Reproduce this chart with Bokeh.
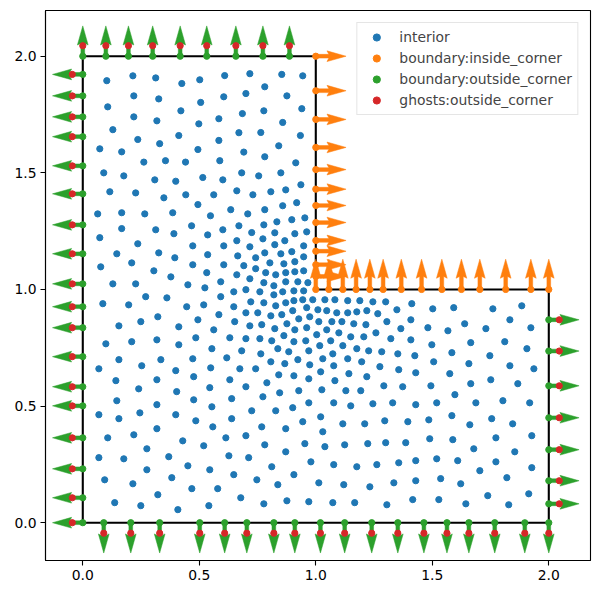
import numpy as np
from bokeh.plotting import figure
from bokeh.models import Range1d, FixedTicker, NumeralTickFormatter
from bokeh.embed import file_html
from bokeh.resources import INLINE

# ---------------- data ----------------
interior_x = [
    # upper-left
    0.103, 0.215, 0.313, 0.425, 0.219, 0.326, 0.107, 0.421, 0.219, 0.318, 0.129, 0.236, 0.412, 0.330, 0.073, 0.167,
    # upper-right of arm
    0.502, 0.609, 0.717, 0.854, 0.944, 0.700, 0.781, 0.605, 0.506, 0.876, 0.685, 0.777, 0.940, 0.584, 0.498, 0.858,
    0.670, 0.764, 0.934, 0.584, 0.494, 0.841, 0.691,
    # arm middle left
    0.262, 0.355, 0.090, 0.176, 0.309, 0.399, 0.116, 0.227, 0.348, 0.064, 0.167, 0.266, 0.386, 0.167, 0.313, 0.391,
    0.073, 0.236, 0.146, 0.326, 0.395, 0.210, 0.305, 0.077,
    # arm middle right
    0.441, 0.588, 0.781, 0.914,
    0.515, 0.601, 0.682, 0.755, 0.850,
    0.442, 0.562, 0.661, 0.730, 0.807, 0.871, 0.936,
    0.494, 0.635, 0.548, 0.708, 0.781, 0.858, 0.918,
    0.467, 0.601, 0.670, 0.777, 0.833, 0.897, 0.953,
    0.536, 0.725, 0.824, 0.910, 0.961,
    0.472, 0.605, 0.661, 0.717, 0.773, 0.824, 0.867, 0.897, 0.948,
    0.536, 0.665, 0.742, 0.781, 0.850, 0.948,
    0.472, 0.605, 0.691, 0.742, 0.803, 0.863, 0.910, 0.948, 0.910,
    # lower-left middle
    0.378, 0.129, 0.227, 0.270, 0.361, 0.086, 0.197, 0.322, 0.249, 0.155, 0.412, 0.099, 0.210, 0.318, 0.412, 0.155,
    0.335, 0.069, 0.253, 0.399, 0.142, 0.318, 0.240, 0.403, 0.146, 0.318, 0.069, 0.245, 0.399,
    # center
    0.532, 0.661, 0.785, 0.828, 0.871,
    0.451, 0.524, 0.592, 0.717, 0.777, 0.820, 0.871, 0.923, 0.966,
    0.592, 0.648, 0.700, 0.760, 0.820, 0.858, 0.906, 0.948, 0.987,
    0.446, 0.519, 0.648, 0.721, 0.777, 0.828, 0.871, 0.944, 0.906, 0.961,
    0.584, 0.700, 0.751, 0.807, 0.854, 0.901, 0.927, 0.974,
    0.494, 0.652, 0.717, 0.768, 0.824, 0.876, 0.910, 0.961, 0.562,
    0.485, 0.631, 0.700, 0.760, 0.811, 0.863, 0.906, 0.957,
    0.554, 0.682, 0.764, 0.837, 0.884, 0.970,
    0.472, 0.618, 0.807, 0.867, 0.923, 0.974,
    0.549, 0.674, 0.742, 0.841, 0.906,
    0.476, 0.631, 0.790, 0.970,
    0.545, 0.700, 0.845, 0.927,
    0.476, 0.639, 0.773, 0.970,
    0.554, 0.725, 0.828, 0.901,
    # right of inner corner
    1.039, 1.082, 1.137, 1.189, 1.245, 1.300, 1.412,
    1.009, 1.047, 1.090, 1.137, 1.176, 1.219, 1.266, 1.348, 1.502,
    1.013, 1.069, 1.112, 1.163, 1.215, 1.305, 1.408,
    1.047, 1.004, 1.099, 1.150, 1.206, 1.258, 1.365, 1.481, 1.567, 1.322, 1.408,
    1.064, 1.017, 1.116, 1.176, 1.227, 1.283, 1.352, 1.425, 1.498,
    1.030, 1.073, 1.137, 1.197, 1.506,
    1.077, 1.275, 1.356, 1.429, 1.021, 1.142, 1.219, 1.082, 1.575,
    1.026, 1.129, 1.193, 1.292, 1.373, 1.494,
    1.077, 1.150, 1.245, 1.330, 1.429, 1.519,
    # far right middle
    1.592, 1.760, 1.884, 1.639, 1.730, 1.833, 1.923, 1.665, 1.811, 1.906, 1.584, 1.747, 1.657, 1.833, 1.936, 1.665,
    1.751, 1.867, 1.597, 1.687, 1.803, 1.918,
    # bottom left
    0.155, 0.107, 0.219, 0.318, 0.429, 0.275, 0.069, 0.176, 0.369, 0.275, 0.094, 0.215, 0.382, 0.322, 0.137, 0.249, 0.408,
    # bottom center
    0.485, 0.558, 0.639, 0.768, 0.871, 0.944, 0.519, 0.614, 0.700, 0.781, 0.871, 0.953, 0.627, 0.712, 0.451, 0.545,
    0.811, 0.979, 0.648, 0.747, 0.906, 0.837, 0.468, 0.579, 0.678, 0.777, 0.876, 0.970, 0.541,
    # bottom right-center
    1.021, 1.116, 1.210, 1.296, 1.395, 1.485, 1.030, 1.039, 1.124, 1.223, 1.300, 1.386, 1.489, 1.077, 1.176, 1.262,
    1.356, 1.429, 1.519, 1.013, 1.120, 1.232, 1.335, 1.429, 1.536, 1.073, 1.167, 1.305, 1.416, 1.528,
    # bottom right
    1.584, 1.661, 1.755, 1.845, 1.588, 1.773, 1.927, 1.678, 1.854, 1.609, 1.773, 1.704, 1.927, 1.820, 1.622, 1.738,
    1.914, 1.644, 1.828,
]
interior_y = [
    1.895, 1.916, 1.907, 1.883, 1.830, 1.817, 1.783, 1.766, 1.740, 1.723, 1.685, 1.643, 1.660, 1.625, 1.603, 1.590,
    1.899, 1.917, 1.925, 1.922, 1.916, 1.840, 1.869, 1.826, 1.802, 1.830, 1.754, 1.766, 1.775, 1.732, 1.710, 1.716,
    1.672, 1.673, 1.660, 1.639, 1.600, 1.616, 1.589,
    1.546, 1.552, 1.500, 1.487, 1.470, 1.464, 1.419, 1.414, 1.393, 1.324, 1.329, 1.324, 1.329, 1.261, 1.256, 1.239,
    1.222, 1.196, 1.153, 1.157, 1.136, 1.114, 1.080, 1.097,
    1.546, 1.552, 1.569, 1.543,
    1.480, 1.470, 1.500, 1.487, 1.500,
    1.406, 1.406, 1.423, 1.406, 1.419, 1.427, 1.449,
    1.364, 1.342, 1.316, 1.324, 1.342, 1.359, 1.372,
    1.273, 1.256, 1.273, 1.277, 1.290, 1.299, 1.307,
    1.234, 1.244, 1.243, 1.239, 1.247,
    1.187, 1.187, 1.209, 1.183, 1.217, 1.192, 1.209, 1.162, 1.187,
    1.149, 1.144, 1.136, 1.157, 1.153, 1.140,
    1.106, 1.106, 1.102, 1.089, 1.114, 1.110, 1.119, 1.080, 1.076,
    1.054, 1.024, 1.024, 0.969, 0.964, 0.939, 0.934, 0.883, 0.862, 0.844, 0.840, 0.767, 0.776, 0.784, 0.763, 0.699,
    0.699, 0.660, 0.673, 0.652, 0.609, 0.613, 0.574, 0.562, 0.523, 0.506, 0.463, 0.471, 0.463,
    1.072, 1.063, 1.072, 1.063, 1.072,
    1.020, 1.007, 1.033, 1.046, 1.029, 1.016, 1.033, 1.033, 1.029,
    0.969, 0.990, 0.999, 0.990, 0.977, 0.990, 0.994, 0.994, 0.956,
    0.926, 0.934, 0.926, 0.947, 0.943, 0.930, 0.943, 0.956, 0.952, 0.922,
    0.892, 0.900, 0.900, 0.887, 0.892, 0.909, 0.874, 0.883,
    0.870, 0.862, 0.844, 0.849, 0.832, 0.853, 0.827, 0.836, 0.827,
    0.793, 0.793, 0.789, 0.789, 0.780, 0.802, 0.776, 0.780,
    0.746, 0.737, 0.724, 0.746, 0.733, 0.737,
    0.703, 0.707, 0.690, 0.682, 0.699, 0.677,
    0.664, 0.660, 0.660, 0.634, 0.630,
    0.626, 0.613, 0.600, 0.617,
    0.579, 0.583, 0.557, 0.566,
    0.527, 0.532, 0.540, 0.514,
    0.497, 0.480, 0.480, 0.493,
    0.956, 0.956, 0.952, 0.952, 0.947, 0.947, 0.939,
    0.913, 0.909, 0.900, 0.900, 0.904, 0.909, 0.896, 0.913, 0.917,
    0.862, 0.862, 0.862, 0.853, 0.849, 0.862, 0.870,
    0.827, 0.806, 0.814, 0.797, 0.797, 0.814, 0.832, 0.836, 0.823, 0.789, 0.784,
    0.780, 0.759, 0.759, 0.746, 0.737, 0.733, 0.724, 0.716, 0.763,
    0.703, 0.724, 0.703, 0.690, 0.690,
    0.673, 0.669, 0.656, 0.643, 0.647, 0.639, 0.626, 0.609, 0.639,
    0.570, 0.566, 0.566, 0.587, 0.583, 0.587,
    0.514, 0.501, 0.510, 0.514, 0.506, 0.514,
    0.922, 0.917, 0.930, 0.853, 0.832, 0.870, 0.836, 0.772, 0.776, 0.746, 0.729, 0.716, 0.682, 0.673, 0.660, 0.596,
    0.613, 0.596, 0.549, 0.514, 0.523, 0.514,
    0.446, 0.364, 0.377, 0.403, 0.351, 0.317, 0.279, 0.274, 0.283, 0.227, 0.184, 0.167, 0.193, 0.120, 0.086, 0.073, 0.056,
    0.437, 0.411, 0.446, 0.411, 0.403, 0.433, 0.330, 0.364, 0.373, 0.334, 0.304, 0.339, 0.287, 0.279, 0.244, 0.227,
    0.240, 0.261, 0.206, 0.184, 0.206, 0.163, 0.146, 0.146, 0.107, 0.081, 0.094, 0.090, 0.073,
    0.454, 0.424, 0.424, 0.437, 0.433, 0.441, 0.390, 0.326, 0.334, 0.339, 0.343, 0.343, 0.360, 0.249, 0.240, 0.249,
    0.257, 0.266, 0.274, 0.171, 0.163, 0.154, 0.171, 0.180, 0.189, 0.086, 0.086, 0.077, 0.099, 0.099,
    0.459, 0.420, 0.446, 0.424, 0.356, 0.364, 0.373, 0.317, 0.304, 0.266, 0.261, 0.223, 0.236, 0.193, 0.167, 0.116,
    0.124, 0.081, 0.077,
]

# boundary: inside corner (orange)
inside_right_y = [2.0, 1.852, 1.729, 1.609, 1.514, 1.430, 1.360, 1.287, 1.210, 1.164, 1.106, 1.056]   # on x = 1, normal +x
inside_top_x = [1.0, 1.056, 1.116, 1.173, 1.232, 1.289, 1.367, 1.454, 1.541, 1.625, 1.704, 1.815, 1.923, 2.0]  # on y = 1, normal +y

# boundary: outside corner (green)
outside_top_x = [0.0, 0.099, 0.196, 0.300, 0.418, 0.532, 0.657, 0.773, 0.887]          # y = 2, normal +y
outside_left_y = [1.922, 1.830, 1.740, 1.655, 1.530, 1.410, 1.277, 1.153, 1.024, 0.926, 0.836,
                  0.712, 0.583, 0.501, 0.364, 0.231, 0.107, 0.0]                           # x = 0, normal -x
outside_bottom_x = [0.090, 0.206, 0.330, 0.502, 0.609, 0.704, 0.820, 0.910, 1.020, 1.124, 1.240,
                    1.352, 1.464, 1.563, 1.657, 1.768, 1.897, 2.0]                         # y = 0, normal -y
outside_right_y = [0.870, 0.736, 0.587, 0.450, 0.313, 0.180, 0.081]                     # x = 2, normal +x

ghost_offset = 0.045   # distance of ghost nodes outside the boundary

domain_x = [0, 2, 2, 1, 1, 0, 0]
domain_y = [0, 0, 1, 1, 2, 2, 0]

ticks = [0.0, 0.5, 1.0, 1.5, 2.0]
series_labels = ["interior", "boundary:inside_corner", "boundary:outside_corner", "ghosts:outside_corner"]
colors = ["#1f77b4", "#ff7f0e", "#2ca02c", "#d62728"]

assert len(interior_x) == len(interior_y)

# ---------------- assemble boundary sets ----------------
def edge(coords, fixed, axis, normal):
    xs, ys, nxs, nys = [], [], [], []
    for c in coords:
        if axis == "x":
            xs.append(c); ys.append(fixed)
        else:
            xs.append(fixed); ys.append(c)
        nxs.append(normal[0]); nys.append(normal[1])
    return xs, ys, nxs, nys

def combine(parts):
    out = [[], [], [], []]
    for prt in parts:
        for i in range(4):
            out[i] += prt[i]
    return out

ins = combine([edge(inside_right_y, 1.0, "y", (1, 0)), edge(inside_top_x, 1.0, "x", (0, 1))])
outs = combine([edge(outside_top_x, 2.0, "x", (0, 1)), edge(outside_left_y, 0.0, "y", (-1, 0)),
                edge(outside_bottom_x, 0.0, "x", (0, -1)), edge(outside_right_y, 2.0, "y", (1, 0))])

ghost_x = [x + ghost_offset * nx for x, nx in zip(outs[0], outs[2])]
ghost_y = [y + ghost_offset * ny for y, ny in zip(outs[1], outs[3])]

# arrow (quiver-like) shape, data units
L, W, HW, HL, HAL = 0.13, 0.016, 0.046, 0.082, 0.074

def arrows(bx, by, nx, ny):
    shape = [(0, W / 2), (L - HAL, W / 2), (L - HL, HW / 2), (L, 0),
             (L - HL, -HW / 2), (L - HAL, -W / 2), (0, -W / 2)]
    XS, YS = [], []
    for x0, y0, dx, dy in zip(bx, by, nx, ny):
        px, py = -dy, dx
        XS.append([x0 + a * dx + b * px for a, b in shape])
        YS.append([y0 + a * dy + b * py for a, b in shape])
    return XS, YS

# ---------------- figure ----------------
p = figure(width=600, height=600, x_range=Range1d(-0.160, 2.179), y_range=Range1d(-0.162, 2.196),
           output_backend="svg", toolbar_location=None,
           min_border_left=45, min_border_right=10, min_border_top=10, min_border_bottom=40)
p.grid.visible = False
p.outline_line_color = "black"
p.outline_line_width = 1.1
p.background_fill_color = "white"
p.border_fill_color = "white"

for ax in (p.xaxis, p.yaxis):
    ax.ticker = FixedTicker(ticks=ticks)
    ax.formatter = NumeralTickFormatter(format="0.0")
    ax.major_label_text_font = "DejaVu Sans"
    ax.major_label_text_font_size = "13.9px"
    ax.major_label_text_color = "black"
    ax.major_tick_out = 5
    ax.major_tick_in = 0
    ax.minor_tick_out = 0
    ax.minor_tick_in = 0
    ax.major_tick_line_width = 1.1
    ax.axis_line_width = 1.1
    ax.major_label_standoff = 4

p.line(domain_x, domain_y, line_color="black", line_width=2.1)

r_int = p.scatter(interior_x, interior_y, size=6.2, color=colors[0], legend_label=series_labels[0])

axs, ays = arrows(*ins)
p.patches(axs, ays, fill_color=colors[1], line_color=colors[1], line_width=0.5)
p.scatter(ins[0], ins[1], size=6.2, color=colors[1], legend_label=series_labels[1])

gxs, gys = arrows(*outs)
p.patches(gxs, gys, fill_color=colors[2], line_color=colors[2], line_width=0.5)
p.scatter(outs[0], outs[1], size=6.2, color=colors[2], legend_label=series_labels[2])

p.scatter(ghost_x, ghost_y, size=6.2, color=colors[3], legend_label=series_labels[3])

lg = p.legend[0]
lg.location = "top_right"
lg.margin = 12
lg.padding = 5
lg.spacing = 3
lg.label_height = 18
lg.glyph_height = 18
lg.glyph_width = 28
lg.label_standoff = 9
lg.label_text_font = "DejaVu Sans"
lg.label_text_font_size = "13.9px"
lg.border_line_color = "#cccccc"
lg.border_line_width = 1
lg.background_fill_alpha = 0.8

open("out.html", "w").write(file_html(p, INLINE))
